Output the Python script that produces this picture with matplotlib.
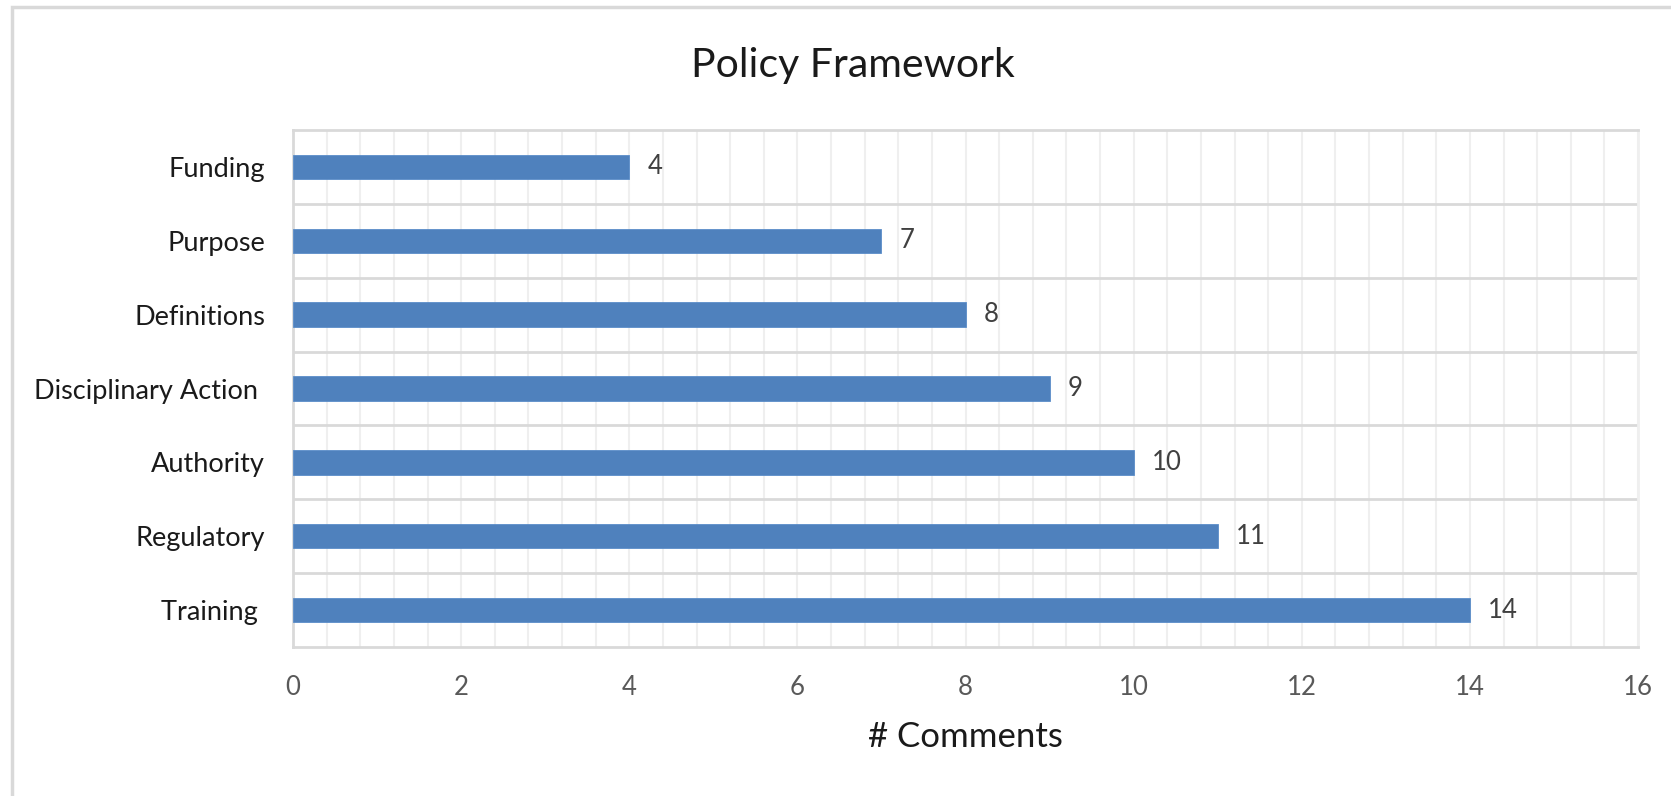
import matplotlib
matplotlib.use("Agg")
import matplotlib.pyplot as plt
from matplotlib.patches import Rectangle
from matplotlib.ticker import MultipleLocator
import numpy as np

categories = ["Training ", "Regulatory", "Authority", "Disciplinary Action ",
              "Definitions", "Purpose", "Funding"]
comments = [14, 11, 10, 9, 8, 7, 4]
x_ticks = [0, 2, 4, 6, 8, 10, 12, 14, 16]

plt.rcParams["font.family"] = ["Lato", "DejaVu Sans"]

W, H = 1671, 796
fig = plt.figure(figsize=(W / 100, H / 100), dpi=100)
fig.patch.set_facecolor("white")

# chart-area frame
fig.patches.append(Rectangle((12 / W, -0.05), 1.1, (H - 7) / H + 0.05,
                             transform=fig.transFigure, fill=False,
                             edgecolor="#d9d9d9", linewidth=2.5))

left, right, top, bottom = 293, 1638, 130, 647
ax = fig.add_axes([left / W, 1 - bottom / H, (right - left) / W, (bottom - top) / H])

y = np.arange(len(categories))
ax.barh(y, comments, height=0.33, color="#4f81bd", edgecolor="#5b8dc9",
        linewidth=0.6, zorder=3)

ax.set_xlim(0, 16)
ax.set_ylim(-0.5, len(categories) - 0.5)
ax.set_xticks(x_ticks)
ax.xaxis.set_minor_locator(MultipleLocator(0.4))
ax.set_yticks(y)
ax.set_yticklabels(categories, fontsize=19.5, color="#1a1a1a")
ax.tick_params(axis="y", length=0, pad=20)
ax.tick_params(axis="x", which="both", length=0, pad=20, labelsize=18.5,
               labelcolor="#595959")

# gridlines: fine vertical grid, category separators horizontally
ax.grid(False)
for xv in np.arange(0, 16.01, 0.4):
    ax.axvline(xv, color="#efefef", linewidth=1.5, zorder=1)
for yb in np.arange(0.5, len(categories) - 0.5, 1):
    ax.axhline(yb, color="#d9d9d9", linewidth=2, zorder=2)

for side in ["top", "bottom", "left", "right"]:
    ax.spines[side].set_color("#d9d9d9")
    ax.spines[side].set_linewidth(2)
ax.spines["right"].set_color("#efefef")

for yi, v in zip(y, comments):
    ax.annotate(str(v), xy=(v, yi), xytext=(18, 0), textcoords="offset pixels",
                va="center", ha="left", fontsize=18.5, color="#404040")

fig.text((left + right) / 2 / W, 1 - 737 / H, "# Comments",
         ha="center", va="center", fontsize=25, color="#1a1a1a")
fig.text(853 / W, 1 - 66 / H, "Policy Framework",
         ha="center", va="center", fontsize=29.5, color="#1a1a1a")

fig.savefig("out.png", dpi=100, facecolor="white")
